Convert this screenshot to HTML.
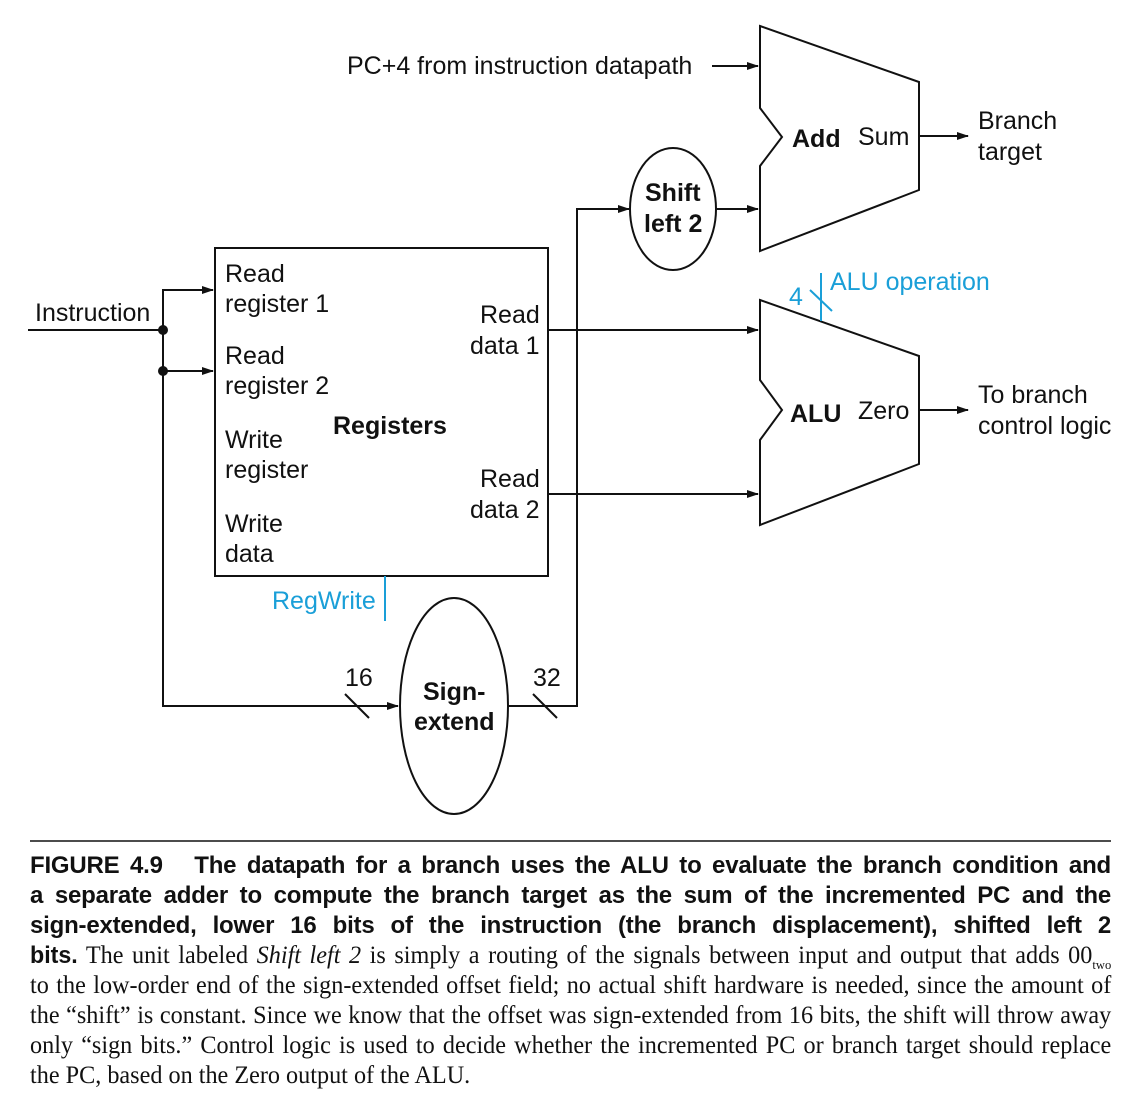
<!DOCTYPE html>
<html><head><meta charset="utf-8"><style>
body{margin:0;background:#fff;width:1142px;height:1106px;overflow:hidden;position:relative}
svg{position:absolute;left:0;top:0}
.cap{position:absolute;left:30px;transform-origin:0 0;text-align:justify;text-align-last:justify;white-space:nowrap;line-height:30px;height:30px;color:#111}
.b{font-family:"Liberation Sans",sans-serif;font-weight:bold;font-size:24px;width:1081px;letter-spacing:-0.2px}
.s{font-family:"Liberation Serif",serif;font-size:25px;width:1117px;transform:scaleX(0.968)}
.b2{font-family:"Liberation Sans",sans-serif;font-weight:bold;font-size:24px}
</style></head><body>
<svg width="1142" height="1106" viewBox="0 0 1142 1106" font-family="Liberation Sans, sans-serif" font-size="25" fill="#111">
<defs><marker id="a" markerWidth="12" markerHeight="8" refX="11" refY="4" orient="auto" markerUnits="userSpaceOnUse"><path d="M0,0 L12,4 L0,8 z" fill="#111"/></marker></defs>
<g stroke="#111" stroke-width="2" fill="none">
<path d="M760,26 L919,82 L919,190 L760,251 L760,166 L782,137 L760,108 Z"/>
<path d="M760,300 L919,356 L919,464 L760,525 L760,440 L782,410 L760,380 Z"/>
<rect x="215" y="248" width="333" height="328"/>
<ellipse cx="673" cy="209" rx="43" ry="61"/>
<ellipse cx="454" cy="706" rx="54" ry="108"/>
<line x1="712" y1="66" x2="758" y2="66" marker-end="url(#a)"/>
<line x1="919" y1="136" x2="968" y2="136" marker-end="url(#a)"/>
<line x1="716" y1="209" x2="758" y2="209" marker-end="url(#a)"/>
<polyline points="508,706 577,706 577,209 629,209" marker-end="url(#a)"/>
<line x1="28" y1="330" x2="163" y2="330"/>
<polyline points="163,330 163,290 213,290" marker-end="url(#a)"/>
<line x1="163" y1="371" x2="213" y2="371" marker-end="url(#a)"/>
<polyline points="163,330 163,706 398,706" marker-end="url(#a)"/>
<line x1="345" y1="694" x2="369" y2="718"/>
<line x1="533" y1="694" x2="557" y2="718"/>
<line x1="548" y1="330" x2="758" y2="330" marker-end="url(#a)"/>
<line x1="548" y1="494" x2="758" y2="494" marker-end="url(#a)"/>
<line x1="919" y1="410" x2="968" y2="410" marker-end="url(#a)"/>
<line x1="30" y1="841" x2="1111" y2="841" stroke-width="1.5"/>
</g>
<circle cx="163" cy="330" r="5"/><circle cx="163" cy="371" r="5"/>
<g stroke="#1a9fd8" stroke-width="2"><line x1="821" y1="273" x2="821" y2="321"/><line x1="810" y1="290" x2="832" y2="311"/><line x1="385" y1="576" x2="385" y2="621"/></g>
<g fill="#1a9fd8"><text x="830" y="290">ALU operation</text><text x="789" y="305">4</text><text x="272" y="609">RegWrite</text></g>
<text x="347" y="74">PC+4 from instruction datapath</text>
<text x="792" y="147" font-weight="bold">Add</text><text x="858" y="145">Sum</text>
<text x="978" y="129">Branch</text><text x="978" y="160">target</text>
<text x="790" y="422" font-weight="bold">ALU</text><text x="858" y="419">Zero</text>
<text x="978" y="403">To branch</text><text x="978" y="434">control logic</text>
<text x="645" y="201" font-weight="bold">Shift</text><text x="644" y="232" font-weight="bold">left 2</text>
<text x="35" y="321">Instruction</text>
<text x="225" y="282">Read</text><text x="225" y="312">register 1</text>
<text x="225" y="364">Read</text><text x="225" y="394">register 2</text>
<text x="225" y="448">Write</text><text x="225" y="478">register</text>
<text x="225" y="532">Write</text><text x="225" y="562">data</text>
<text x="333" y="434" font-weight="bold">Registers</text>
<text x="480" y="323">Read</text><text x="470" y="354">data 1</text>
<text x="480" y="487">Read</text><text x="470" y="518">data 2</text>
<text x="423" y="700" font-weight="bold">Sign-</text><text x="414" y="730" font-weight="bold">extend</text>
<text x="345" y="686">16</text><text x="533" y="686">32</text>
</svg>
<div class="cap b" style="top:851px">FIGURE 4.9&nbsp;&nbsp; The datapath for a branch uses the ALU to evaluate the branch condition and</div>
<div class="cap b" style="top:881px">a separate adder to compute the branch target as the sum of the incremented PC and the</div>
<div class="cap b" style="top:911px">sign-extended, lower 16 bits of the instruction (the branch displacement), shifted left 2</div>
<div class="cap s" style="top:941px"><span class="b2">bits.</span> The unit labeled <i>Shift left 2</i> is simply a routing of the signals between input and output that adds 00<sub style="font-size:13px">two</sub></div>
<div class="cap s" style="top:971px">to the low-order end of the sign-extended offset field; no actual shift hardware is needed, since the amount of</div>
<div class="cap s" style="top:1001px">the “shift” is constant. Since we know that the offset was sign-extended from 16 bits, the shift will throw away</div>
<div class="cap s" style="top:1031px">only “sign bits.” Control logic is used to decide whether the incremented PC or branch target should replace</div>
<div class="cap s" style="top:1061px;text-align-last:left">the PC, based on the Zero output of the ALU.</div>
</body></html>
